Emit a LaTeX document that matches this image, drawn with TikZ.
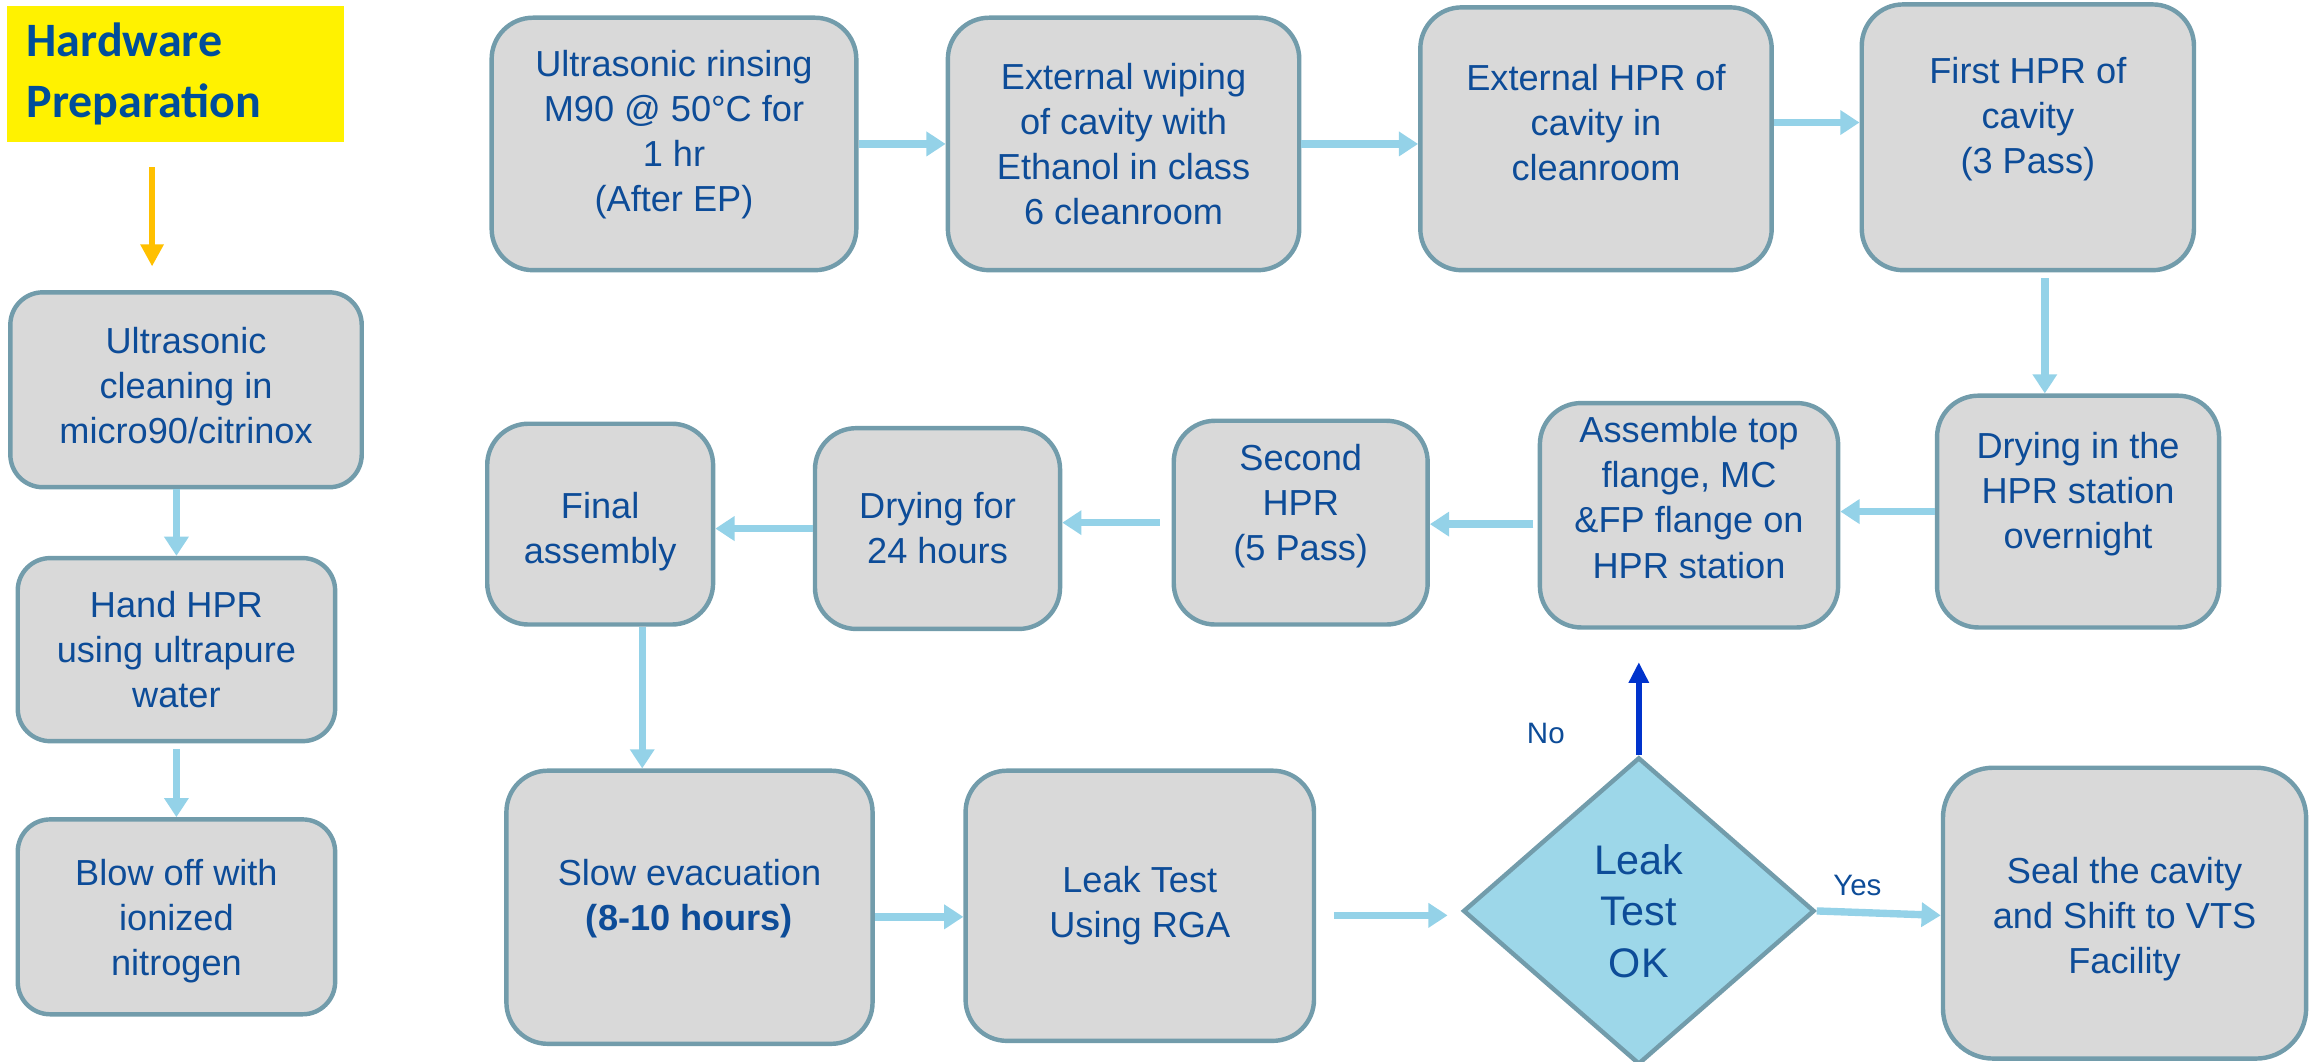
\documentclass[tikz,border=0pt]{standalone}
\usepackage{fontspec}
\setmainfont{Liberation Sans}
\newfontfamily\hwfont{Carlito}
\usetikzlibrary{arrows.meta,shapes.geometric,calc}
\definecolor{boxfill}{HTML}{D9D9D9}
\definecolor{boxline}{HTML}{729CAB}
\definecolor{txtblue}{HTML}{0D4C98}
\definecolor{arrblue}{HTML}{94D2E8}
\definecolor{diafill}{HTML}{9DD7E9}
\definecolor{hwblue}{HTML}{004E9A}
\definecolor{noblue}{HTML}{0033CC}
\definecolor{orangearr}{HTML}{FFC000}
\tikzset{
  stepbox/.style={draw=boxline, line width=3pt, fill=boxfill, rounded corners=28pt, inner sep=0pt},
  leftbox/.style={stepbox, rounded corners=22pt},
  boxtext/.style={text=txtblue, align=center, inner sep=0pt,
    font=\fontsize{24.5}{30.5}\selectfont},
  flowarr/.style={draw=arrblue, line width=5pt, -{Triangle[length=13pt,width=16pt]}},
  lbl/.style={text=txtblue, font=\fontsize{20}{24}\selectfont, inner sep=0pt}
}
% #1 name, #2 style, #3 x, #4 y, #5 width, #6 height, #7 text lift, #8 text
\newcommand\mkstep[8]{%
  \node[#2, minimum width=#5pt, minimum height=#6pt] (#1) at (#3,#4) {};
  \node[boxtext] (#1t) at ([yshift=#7pt]#1.center) {#8};}
\begin{document}
\begin{tikzpicture}[x=1pt,y=-1pt]
\useasboundingbox (0,0) rectangle (1568,719);

% Hardware preparation header
\node[fill=yellow, minimum width=228pt, minimum height=92pt, text width=202pt,
      align=left, inner sep=0pt, text=hwblue,
      font=\hwfont\bfseries\fontsize{32.5}{41}\selectfont] (hw) at (119,50)
      {Hardware\\Preparation};

% left column
\mkstep{L1}{leftbox}{126}{264}{238}{132}{3}{Ultrasonic\\cleaning in\\micro90/citrinox}
\mkstep{L2}{leftbox}{119.5}{440}{215}{124}{0}{Hand HPR\\using ultrapure\\water}
\mkstep{L3}{leftbox}{119.5}{621}{215}{132}{-3}{Blow off with\\ionized\\nitrogen}

% top row
\mkstep{B1}{stepbox}{456.5}{97.5}{247}{171}{6}{Ultrasonic rinsing\\M90 @ 50°C for\\1 hr\\(After EP)}
\mkstep{B2}{stepbox}{761}{97.5}{238}{171}{0}{External wiping\\of cavity with\\Ethanol in class\\6 cleanroom}
\mkstep{B3}{stepbox}{1081}{94}{238}{178}{11}{External HPR of\\cavity in\\cleanroom}
\mkstep{B4}{stepbox}{1373.5}{93}{225}{180}{12}{First HPR of\\cavity\\(3 Pass)}

% middle row
\mkstep{B5}{stepbox}{1407.5}{346.5}{191}{157}{12}{Drying in the\\HPR station\\overnight}
\mkstep{B6}{stepbox}{1144}{349}{202}{152}{12}{Assemble top\\flange, MC\\\&FP flange on\\HPR station}
\mkstep{B7}{stepbox}{881}{354}{172}{138}{11}{Second\\HPR\\(5 Pass)}
\mkstep{B8}{stepbox}{635}{358}{166}{136}{0}{Drying for\\24 hours}
\mkstep{B9}{stepbox}{406.5}{355}{153}{136}{-5}{Final\\assembly}

% bottom row
\mkstep{B10}{stepbox}{467}{614.5}{248}{185}{6}{Slow evacuation\\\textbf{(8-10 hours)}}
\mkstep{B11}{stepbox}{772}{613.5}{236}{183}{0}{Leak Test\\Using RGA}
\node[diamond, draw=boxline, line width=3pt, fill=diafill, text=txtblue,
      minimum width=238pt, minimum height=208pt, inner sep=0pt, align=center,
      font=\fontsize{28}{35}\selectfont] (D) at (1110,617)
  {Leak\\Test\\OK};
\mkstep{B12}{stepbox, rounded corners=34pt}{1439}{618.5}{246}{197}{-4}{Seal the cavity\\and Shift to VTS\\Facility}

% labels
\node[lbl] (no) at (1047,497) {No};
\node[lbl] (yes) at (1258,600) {Yes};

% connectors
\draw[draw=orangearr, line width=4pt, -{Triangle[length=15pt,width=15pt]},
      shorten <=17pt, shorten >=16pt]
  ([xshift=-16pt]hw.south) -- ([xshift=-16pt]hw.south |- L1.north);
\draw[flowarr, line width=4.5pt] (L1.south -| L2.south) -- (L2.north);
\draw[flowarr, line width=4.5pt, shorten <=4pt] (L2.south) -- (L3.north);

\draw[flowarr] (B1.east) -- (B1.east -| B2.west);
\draw[flowarr] (B2.east) -- (B2.east -| B3.west);
\draw[flowarr] ([yshift=11pt]B3.east) -- ([yshift=11pt]B3.east -| B4.west);
\draw[flowarr, shorten <=4pt] ([xshift=11.5pt]B4.south) -- ([xshift=11.5pt]B4.south |- B5.north);

\draw[flowarr] (B5.west) -- (B5.west -| B6.east);
\draw[flowarr, shorten <=3pt] ([yshift=-6pt]B6.west) -- ([yshift=-6pt]B6.west -| B7.east);
\draw[flowarr, shorten <=8pt] (B7.west) -- (B7.west -| B8.east);
\draw[flowarr] (B8.west) -- (B8.west -| B9.east);
\draw[flowarr] ([xshift=28.5pt]B9.south) -- ([xshift=28.5pt]B9.south |- B10.north);

\draw[flowarr] ([yshift=-6.5pt]B10.east) -- ([yshift=-6.5pt]B10.east -| B11.west);
\draw[flowarr, shorten <=12pt, shorten >=9pt] ([yshift=-6.5pt]B11.east) -- ([yshift=-6.5pt]B11.east -| D.west);
\draw[flowarr] (D.east) -- ([yshift=-1.5pt]B12.west);
\draw[draw=noblue, line width=4pt, -{Triangle[length=14pt,width=13pt]}, shorten >=22pt]
  (D.north) -- (D.north |- B6.south);
\end{tikzpicture}
\end{document}
